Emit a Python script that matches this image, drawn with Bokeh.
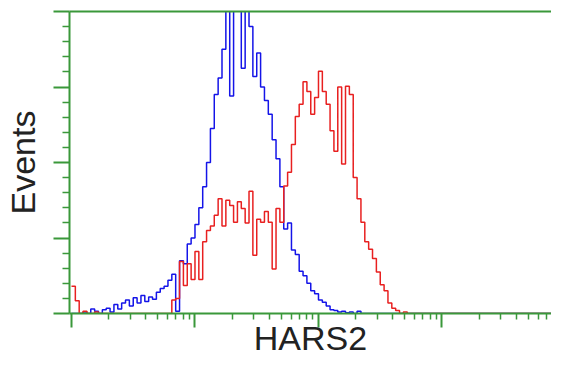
import numpy as np
from bokeh.plotting import figure
from bokeh.models import FixedTicker, LinearAxis, Range1d
from bokeh.embed import file_html
from bokeh.resources import INLINE

# 128 histogram bins of 8 channels each (1024-channel log display, 4 decades)
bin_width = 8
blue_counts = [0, 0, 0, 2, 0, 6, 3, 0, 5, 7,
               2, 12, 6, 14, 18, 10, 21, 14, 24, 16,
               22, 19, 28, 33, 36, 44, 52, 3, 70, 66,
               92, 100, 118, 140, 168, 200, 245, 290, 312, 350,
               410, 288, 410, 405, 325, 410, 380, 314, 345, 300,
               282, 264, 230, 205, 168, 112, 120, 84, 78, 56,
               50, 40, 30, 26, 18, 15, 10, 5, 4, 2,
               3, 1, 2, 0, 3, 0, 0, 0, 0, 0,
               0, 0, 0, 0, 0, 0, 0, 0, 0, 0,
               0, 0, 0, 0, 0, 0, 0, 0, 0, 0,
               0, 0, 0, 0, 0, 0, 0, 0, 0, 0,
               0, 0, 0, 0, 0, 0, 0, 0, 0, 0,
               0, 0, 0, 0, 0, 0, 0, 0]
red_counts = [36, 17, 0, 3, 0, 0, 2, 0, 0, 0,
              0, 0, 0, 0, 0, 0, 0, 0, 0, 0,
              0, 0, 0, 0, 0, 0, 18, 20, 69, 37,
              66, 45, 82, 45, 95, 110, 116, 130, 152, 116,
              150, 143, 121, 148, 139, 120, 162, 77, 125, 121,
              135, 121, 59, 139, 121, 169, 187, 224, 261, 277,
              307, 294, 264, 286, 321, 294, 277, 242, 215, 300,
              198, 301, 290, 180, 152, 121, 95, 85, 73, 55,
              38, 30, 14, 7, 4, 0, 2, 0, 0, 0,
              0, 0, 0, 0, 0, 0, 0, 0, 0, 0,
              0, 0, 0, 0, 0, 0, 0, 0, 0, 0,
              0, 0, 0, 0, 0, 0, 0, 0, 0, 0,
              0, 0, 0, 0, 0, 0, 0, 0]
decade_channels = [0, 256, 512, 768, 1024]
y_major = [0, 100, 200, 300, 400]
y_minor = [20, 40, 60, 80, 120, 140, 160, 180, 220, 240, 260, 280, 320, 340, 360, 380]

GREEN = "#3a983a"
FONT = "Liberation Sans"

edges = np.arange(len(blue_counts) + 1) * bin_width
x_minor = [d * 256 + 256 * np.log10(m) for d in range(4) for m in range(2, 10)]

p = figure(width=551, height=359, output_backend="svg", toolbar_location=None,
           x_range=Range1d(-4.1, 995), y_range=Range1d(0, 400),
           min_border_left=69, min_border_right=0, min_border_top=11, min_border_bottom=45)
p.grid.visible = False
p.outline_line_color = None
p.background_fill_color = "white"

p.step(edges, blue_counts + [blue_counts[-1]], mode="after", line_color="#1414e8", line_width=1.5)
p.step(edges, red_counts + [red_counts[-1]], mode="after", line_color="#e82020", line_width=1.5)

for ax in (p.xaxis[0], p.yaxis[0]):
    ax.axis_line_color = GREEN
    ax.axis_line_width = 2
    ax.major_tick_line_color = GREEN
    ax.major_tick_line_width = 2
    ax.minor_tick_line_color = GREEN
    ax.minor_tick_line_width = 1.5
    ax.major_tick_in = 0
    ax.minor_tick_in = 0
    ax.major_label_text_font_size = "1px"
    ax.major_label_text_color = None
    ax.major_label_standoff = 0
    ax.axis_label_text_font = FONT
    ax.axis_label_text_font_size = "34px"
    ax.axis_label_text_font_style = "normal"
    ax.axis_label_text_color = "#222222"

p.xaxis.ticker = FixedTicker(ticks=decade_channels, minor_ticks=x_minor)
p.xaxis.major_label_overrides = {t: "" for t in decade_channels}
p.xaxis.major_tick_out = 14
p.xaxis.minor_tick_out = 6
p.xaxis.axis_label = "HARS2"
p.xaxis.axis_label_standoff = -9

p.yaxis.ticker = FixedTicker(ticks=y_major, minor_ticks=y_minor)
p.yaxis.major_label_overrides = {t: "" for t in y_major}
p.yaxis.major_tick_out = 16
p.yaxis.minor_tick_out = 7
p.yaxis.axis_label = "Events"
p.yaxis.axis_label_standoff = 12

top = LinearAxis(ticker=FixedTicker(ticks=[]), axis_line_color=GREEN, axis_line_width=2,
                 major_label_text_font_size="1px", major_label_text_color=None,
                 major_tick_out=0, minor_tick_out=0)
p.add_layout(top, "above")

open("out.html", "w").write(file_html(p, INLINE))
